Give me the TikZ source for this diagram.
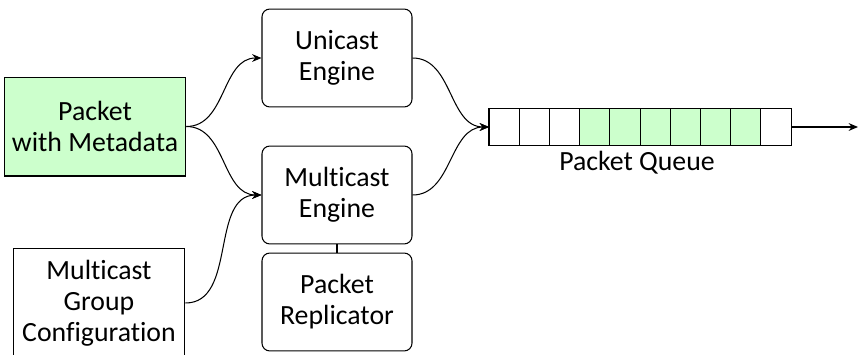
\documentclass[tikz,border=0pt]{standalone}
\usepackage{fontspec}
\setmainfont{Carlito}[Ligatures=NoCommon]
\usetikzlibrary{arrows.meta}
\begin{document}
\begin{tikzpicture}[x=0.385pt,y=-0.385pt,
  every node/.style={font=\fontsize{10.7}{11.9}\selectfont, align=center, inner sep=0pt},
  engine/.style={draw, rounded corners=3pt, minimum width=57.75pt, minimum height=37.7pt},
  srcbox/.style={draw, minimum width=70pt, minimum height=38.1pt},
  cell/.style={draw, outer sep=0pt, minimum width=11.63pt, minimum height=14.6pt, anchor=west},
  full/.style={fill=green!20},
  link/.style={-{Stealth[length=3.6pt,width=3pt]}},
  sbend/.style={out=0,in=180}]
\useasboundingbox (0,0) rectangle (860,354);
\node[srcbox, full] (pkt) at (95,126.5) {Packet\\with Metadata};
\node[draw, minimum width=66.2pt, minimum height=41.6pt] (cfg) at (99,303) {Multicast\\Group\\Configuration};
\node[engine] (uni) at (337,58) {Unicast\\Engine};
\node[engine] (mul) at (337,195) {Multicast\\Engine};
\node[engine] (rep) at (337,302) {Packet\\Replicator};
\node[cell] (q1) at (489,127) {};
\foreach \i [count=\j from 1] in {2,...,10}{
  \ifnum\i>3 \ifnum\i<10
    \node[cell, full] (q\i) at (q\j.east) {};
  \else
    \node[cell] (q\i) at (q\j.east) {};
  \fi\else
    \node[cell] (q\i) at (q\j.east) {};
  \fi
}
\node (ql) at (637,163) {Packet Queue};
\coordinate (out) at (858,127);
\draw[link] (pkt.east) to[sbend] (uni.west);
\draw[link] (pkt.east) to[sbend] (mul.west);
\draw[link] (cfg.east) to[sbend] (mul.west);
\draw[link] (uni.east) to[sbend] (q1.west);
\draw[link] (mul.east) to[sbend] (q1.west);
\draw (mul.south) -- (rep.north);
\draw[link] (q10.east) -- (out);
\end{tikzpicture}
\end{document}
